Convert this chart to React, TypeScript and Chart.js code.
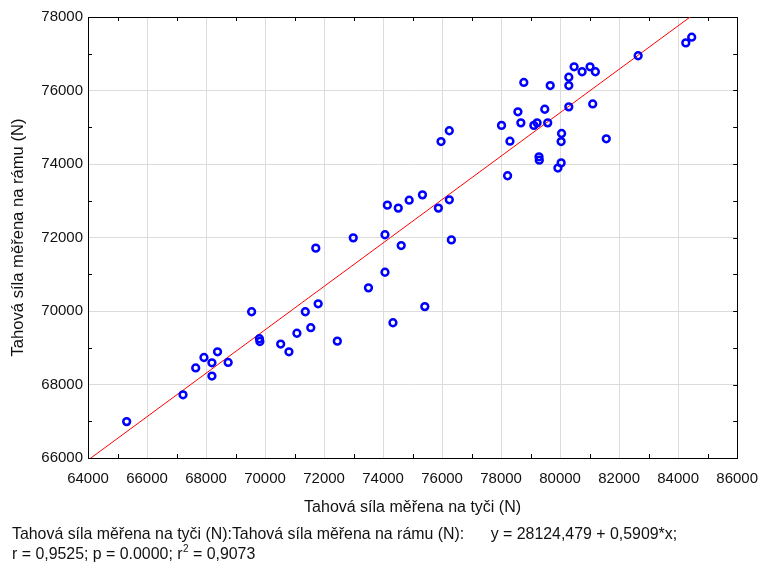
import React, { useEffect, useRef } from 'react';
import { Chart, registerables } from 'chart.js';

Chart.register(...registerables);

// ---- data ----
const xValues = [
  65310, 67220, 67650, 67930, 68200, 68200, 68390, 68750, 69545, 69810,
  69825, 70530, 70810, 71080, 71365, 71550, 71800, 72450, 71720, 72990,
  73505, 74065, 74065, 74145, 74515, 74615, 74335, 74885, 75335, 75415,
  75875, 76245, 76315, 75965, 76245, 78015, 78220, 78300, 78570, 78670,
  78770, 79110, 79220, 79285, 79295, 79480, 79580, 79665, 79925, 80035,
  80035, 80050, 80295, 80295, 80295, 80475, 80745, 81015, 81105, 81195,
  81565, 82645, 84260, 84460,
];
const yValues = [
  66990, 67720, 68450, 68735, 68590, 68230, 68890, 68600, 69980, 69245,
  69170, 69100, 68890, 69395, 69980, 69545, 70195, 69180, 71710, 71990,
  70630, 71055, 72075, 72880, 72800, 71780, 69680, 73015, 73160, 70120,
  72800, 73025, 71935, 74610, 74905, 75050, 73680, 74620, 75420, 75120,
  76220, 75050, 75120, 74195, 74105, 75490, 75120, 76135, 73890, 74030,
  74610, 74830, 75555, 76135, 76360, 76645, 76510, 76645, 75635, 76510,
  74685, 76945, 77295, 77450,
];
const xRange = [64000, 86000];
const yRange = [66000, 78000];
const majorStep = 2000;
const minorStep = 1000;
const intercept = 28124.479;
const slope = 0.5909;
const xTitle = 'Tahová síla měřena na tyči (N)';
const yTitle = 'Tahová síla měřena na rámu (N)';
const footerLine1 =
  'Tahová síla měřena na tyči (N):Tahová síla měřena na rámu (N):      y = 28124,479 + 0,5909*x;';
const footerLine2 = ['r = 0,9525; p = 0.0000; r', '2', ' = 0,9073'];

const FONT = "'Liberation Sans', Arial, sans-serif";

const framePlugin = {
  id: 'frameTicks',
  beforeDatasetsDraw(chart: any) {
    const { ctx, chartArea } = chart;
    const { left, right, top, bottom } = chartArea;
    const xs = chart.scales.x;
    const ys = chart.scales.y;
    const len = 4;
    ctx.save();
    ctx.strokeStyle = '#000';
    ctx.lineWidth = 1;
    ctx.beginPath();
    for (let v = xRange[0]; v <= xRange[1]; v += minorStep) {
      const px = Math.round(xs.getPixelForValue(v)) + 0.5;
      if (v % majorStep !== 0) {
        ctx.moveTo(px, bottom);
        ctx.lineTo(px, bottom - len);
        ctx.moveTo(px, top);
        ctx.lineTo(px, top + len);
      }
    }
    for (let v = yRange[0]; v <= yRange[1]; v += minorStep) {
      const py = Math.round(ys.getPixelForValue(v)) + 0.5;
      if (v % majorStep !== 0) {
        ctx.moveTo(left, py);
        ctx.lineTo(left + len, py);
      }
      ctx.moveTo(right, py);
      ctx.lineTo(right - len, py);
    }
    ctx.stroke();
    ctx.strokeRect(Math.round(left) + 0.5, Math.round(top) + 0.5, Math.round(right - left), Math.round(bottom - top));
    ctx.restore();
  },
  afterDraw(chart: any) {
    const { ctx } = chart;
    ctx.save();
    ctx.fillStyle = '#111';
    ctx.textBaseline = 'alphabetic';
    ctx.textAlign = 'left';
    ctx.font = `15.9px ${FONT}`;
    ctx.fillText(footerLine1, 12, 539);
    let x = 12;
    ctx.fillText(footerLine2[0], x, 559);
    x += ctx.measureText(footerLine2[0]).width;
    ctx.font = `10px ${FONT}`;
    ctx.fillText(footerLine2[1], x + 0.5, 552);
    x += ctx.measureText(footerLine2[1]).width + 0.5;
    ctx.font = `15.9px ${FONT}`;
    ctx.fillText(footerLine2[2], x, 559);
    ctx.restore();
  },
};

export default function App() {
  const ref = useRef<HTMLCanvasElement | null>(null);

  useEffect(() => {
    if (!ref.current) return;
    Chart.defaults.font.family = FONT;
    Chart.defaults.color = '#111';
    const points = xValues.map((x, i) => ({ x, y: yValues[i] }));
    const fit = xRange.map((x) => ({ x, y: intercept + slope * x }));
    const chart = new Chart(ref.current, {
      type: 'scatter',
      data: {
        datasets: [
          {
            data: points,
            order: 0,
            pointRadius: 3.4,
            pointBorderWidth: 2.5,
            borderColor: '#0000ff',
            backgroundColor: 'rgba(0,0,0,0)',
            pointBorderColor: '#0000ff',
            pointBackgroundColor: 'rgba(0,0,0,0)',
          },
          {
            data: fit,
            order: 1,
            showLine: true,
            pointRadius: 0,
            borderColor: '#ff0000',
            borderWidth: 1,
          },
        ],
      },
      options: {
        responsive: false,
        animation: false,
        devicePixelRatio: 1,
        events: [],
        layout: { padding: { left: 0, right: 29, top: 17, bottom: 46 } },
        plugins: {
          legend: { display: false },
          tooltip: { enabled: false },
        },
        scales: {
          x: {
            type: 'linear',
            position: 'bottom',
            min: xRange[0],
            max: xRange[1],
            ticks: {
              stepSize: majorStep,
              autoSkip: false,
              maxRotation: 0,
              padding: 12,
              color: '#111',
              font: { size: 15 },
              callback: (v: any) => String(v),
            },
            grid: { color: '#dcdcdc', drawTicks: false },
            border: { display: false },
            title: {
              display: true,
              text: xTitle,
              color: '#111',
              font: { size: 16 },
              padding: { top: 0, bottom: 1 },
            },
            afterFit: (s: any) => {
              s.height = 60;
            },
          },
          y: {
            type: 'linear',
            position: 'left',
            min: yRange[0],
            max: yRange[1],
            ticks: {
              stepSize: majorStep,
              autoSkip: false,
              padding: 5,
              color: '#111',
              font: { size: 15 },
              callback: (v: any) => String(v),
            },
            grid: { color: '#dcdcdc', drawTicks: false },
            border: { display: false },
            title: {
              display: true,
              text: yTitle,
              color: '#111',
              font: { size: 16.6 },
              padding: { top: 8, bottom: 0 },
            },
            afterFit: (s: any) => {
              s.width = 88;
            },
          },
        },
      },
      plugins: [framePlugin],
    });
    return () => chart.destroy();
  }, []);

  return (
    <div style={{ position: 'absolute', left: 0, top: 0, width: 770, height: 564, background: '#fff' }}>
      <canvas ref={ref} width={770} height={564} style={{ display: 'block' }} />
    </div>
  );
}
